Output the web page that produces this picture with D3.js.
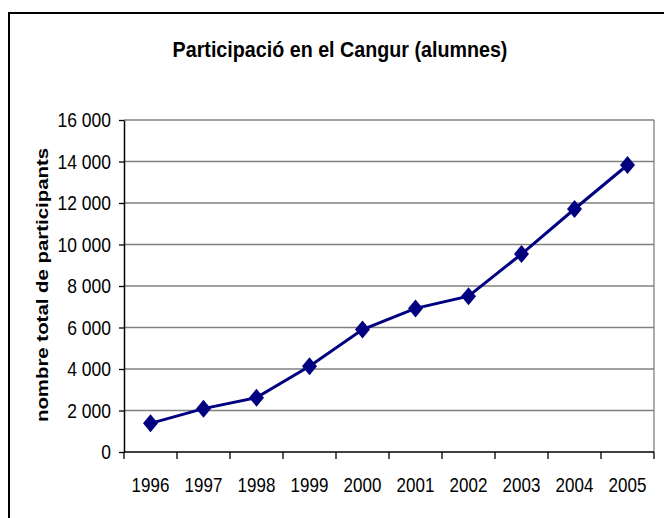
<!DOCTYPE html>
<html>
<head>
<meta charset="utf-8">
<script src="https://cdnjs.cloudflare.com/ajax/libs/d3/7.8.5/d3.min.js"></script>
<style>
    body { margin: 0; background: #fff; }
    text { font-family: "Liberation Sans", Arial, sans-serif; fill: #000; }
</style>
</head>
<body>
<div id="LINE_CHART"></div>
<script>
// chart data
var years = ["1996", "1997", "1998", "1999", "2000", "2001", "2002", "2003", "2004", "2005"];
var participants = [1380, 2090, 2620, 4130, 5900, 6920, 7510, 9540, 11710, 13830];
var yTicks = [0, 2000, 4000, 6000, 8000, 10000, 12000, 14000, 16000];

var title = "Participació en el Cangur (alumnes)";
var yTitle = "nombre total de participants";

// set the dimensions and margins of the graph
var WIDTH = 664, HEIGHT = 518;
var margin = {top: 120, right: 10, bottom: 66, left: 124},
    width = WIDTH - margin.left - margin.right,
    height = HEIGHT - margin.top - margin.bottom;

var svg = d3.select("#LINE_CHART")
    .append("svg")
    .attr("width", WIDTH)
    .attr("height", HEIGHT);

// outer frame of the chart (cut by the picture on the right and bottom)
svg.append("rect")
    .attr("x", 9)
    .attr("y", 13)
    .attr("width", 700)
    .attr("height", 600)
    .attr("fill", "none")
    .attr("stroke", "#000")
    .attr("stroke-width", 2);

var g = svg.append("g")
    .attr("transform", "translate(" + margin.left + "," + margin.top + ")");

// X axis: categories, ticks between them
var x = d3.scaleBand()
    .domain(years)
    .range([0, width]);

var y = d3.scaleLinear()
    .domain([0, 16000])
    .range([height, 0]);

var fmt = function(d) { return d3.format(",")(d).replace(",", " "); };

// gridlines
g.selectAll(".grid")
    .data(yTicks.filter(function(d) { return d > 0; }))
    .enter()
    .append("line")
    .attr("class", "grid")
    .attr("x1", 0)
    .attr("x2", width)
    .attr("y1", function(d) { return y(d); })
    .attr("y2", function(d) { return y(d); })
    .attr("stroke", "#808080")
    .attr("stroke-width", 1.3);

// right border of the plot area
g.append("line")
    .attr("x1", width).attr("x2", width)
    .attr("y1", 0).attr("y2", height)
    .attr("stroke", "#808080")
    .attr("stroke-width", 1.3);

// Y axis
var yAxis = g.append("g")
    .call(d3.axisLeft(y).tickValues(yTicks).tickFormat(fmt).tickSize(5).tickPadding(8).tickSizeOuter(0));
yAxis.select(".domain").attr("stroke", "#000").attr("stroke-width", 1.5);
yAxis.selectAll(".tick line").attr("stroke", "#000").attr("stroke-width", 1.3);
yAxis.selectAll(".tick text")
    .style("font-size", "17.5px")
    .attr("dy", null)
    .attr("y", 0)
    .attr("transform", "scale(1,1.15)")
    .attr("dominant-baseline", "central");

// X axis
var edges = years.map(function(d) { return x(d); }).concat([width]);
var xAxis = g.append("g")
    .attr("transform", "translate(0," + height + ")");
xAxis.append("line")
    .attr("x1", 0).attr("x2", width)
    .attr("stroke", "#000")
    .attr("stroke-width", 1.5);
xAxis.selectAll(".xtick")
    .data(edges)
    .enter()
    .append("line")
    .attr("class", "xtick")
    .attr("x1", function(d) { return d; })
    .attr("x2", function(d) { return d; })
    .attr("y1", 0)
    .attr("y2", 7)
    .attr("stroke", "#000")
    .attr("stroke-width", 1.3);
xAxis.selectAll(".xlabel")
    .data(years)
    .enter()
    .append("text")
    .attr("class", "xlabel")
    .attr("transform", function(d) {
        return "translate(" + (x(d) + x.bandwidth() / 2) + ",40) scale(1,1.2)";
    })
    .attr("text-anchor", "middle")
    .style("font-size", "17px")
    .text(function(d) { return d; });

// the line
var makeLine = d3.line()
    .x(function(d, i) { return x(years[i]) + x.bandwidth() / 2; })
    .y(function(d) { return y(d); });

g.append("path")
    .datum(participants)
    .attr("d", makeLine)
    .attr("fill", "none")
    .attr("stroke", "#000080")
    .attr("stroke-width", 3);

// diamond markers, slightly taller than wide
var diamond = {
    draw: function(context, size) {
        var w = 7.5, h = 9;
        context.moveTo(0, -h);
        context.lineTo(w, 0);
        context.lineTo(0, h);
        context.lineTo(-w, 0);
        context.closePath();
    }
};
g.selectAll(".marker")
    .data(participants)
    .enter()
    .append("path")
    .attr("class", "marker")
    .attr("transform", function(d, i) {
        return "translate(" + (x(years[i]) + x.bandwidth() / 2) + "," + y(d) + ")";
    })
    .attr("d", d3.symbol().type(diamond))
    .attr("fill", "#000080");

// title
svg.append("text")
    .attr("transform", "translate(340,57) scale(1,1.12)")
    .attr("text-anchor", "middle")
    .style("font-size", "19.7px")
    .style("font-weight", "bold")
    .text(title);

// Y axis title
svg.append("text")
    .attr("transform", "translate(48,285) rotate(-90) scale(1.2,1)")
    .attr("text-anchor", "middle")
    .style("font-size", "17px")
    .style("font-weight", "bold")
    .text(yTitle);
</script>
</body>
</html>
